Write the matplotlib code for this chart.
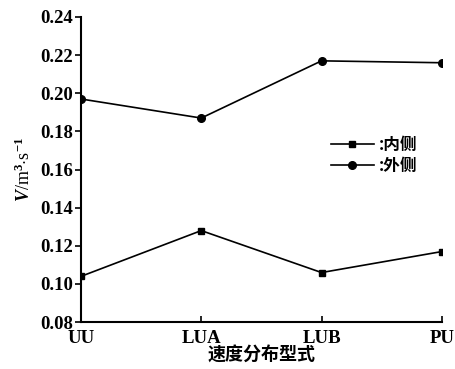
import matplotlib
matplotlib.use("Agg")
import matplotlib.pyplot as plt

# velocity distribution types and flow rates
types = ["UU", "LUA", "LUB", "PU"]
inner = [0.104, 0.128, 0.106, 0.117]
outer = [0.197, 0.187, 0.217, 0.216]
yticks = [0.08, 0.10, 0.12, 0.14, 0.16, 0.18, 0.20, 0.22, 0.24]

plt.rcParams["font.family"] = ["Liberation Serif", "Noto Sans CJK SC"]
plt.rcParams["mathtext.fontset"] = "custom"
plt.rcParams["mathtext.rm"] = "Liberation Serif:bold"
plt.rcParams["mathtext.it"] = "Liberation Serif:italic:bold"

fig = plt.figure(figsize=(4.55, 3.69), dpi=100)
ax = fig.add_axes([0.178, 0.127, 0.793, 0.827])

x = range(len(types))
ax.plot(x, inner, color="black", lw=1.2, marker="s", ms=5, label=":内侧")
ax.plot(x, outer, color="black", lw=1.2, marker="o", ms=5.5, label=":外侧")

ax.set_xlim(0, 3)
ax.set_ylim(0.08, 0.24)
ax.set_yticks(yticks)
ax.set_yticklabels(["%.2f" % v for v in yticks], fontsize=13.5, fontweight="bold")
ax.set_xticks(list(x))
ax.set_xticklabels(types, fontsize=13.5, fontweight="bold")
ax.tick_params(axis="x", direction="in", length=4, width=1.2, pad=6)
ax.tick_params(axis="y", direction="out", length=4, width=1.2, pad=2)

ax.spines["top"].set_visible(False)
ax.spines["right"].set_visible(False)
ax.spines["left"].set_linewidth(1.5)
ax.spines["bottom"].set_linewidth(1.5)

ax.set_ylabel(r"$V$/m$^3$$\cdot$s$^{-1}$", fontsize=13, labelpad=4)
ax.set_xlabel("速度分布型式", fontsize=13, fontweight="bold",
              family="Noto Sans CJK SC", labelpad=-1)

leg = ax.legend(loc="upper left", bbox_to_anchor=(0.65, 0.66), frameon=False,
                prop={"family": "Noto Sans CJK SC", "weight": "bold", "size": 12},
                handlelength=2.6, handletextpad=0.3, labelspacing=0.2)

fig.savefig("out.png", dpi=100)
